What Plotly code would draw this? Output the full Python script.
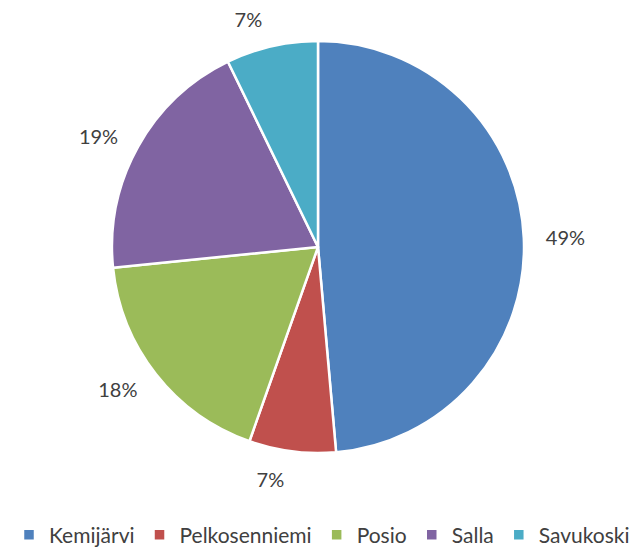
import plotly.graph_objects as go

categories = ["Kemijärvi", "Pelkosenniemi", "Posio", "Salla", "Savukoski"]
values = [48.6, 6.8, 18.0, 19.4, 7.2]
colors = ["#4F81BD", "#C0504D", "#9BBB59", "#8064A2", "#4BACC6"]

W, H = 638, 548
# page body has an 8px default margin, so figure coords = screen coords - 8
cx, cy, r = 310, 239, 206
label_r = r + 16


def dom(rr):
    return dict(x=[(cx - rr) / W, (cx + rr) / W], y=[1 - (cy + rr) / H, 1 - (cy - rr) / H])


fig = go.Figure()
fig.add_trace(go.Pie(
    labels=categories,
    values=values,
    sort=False,
    direction="clockwise",
    rotation=0,
    marker=dict(colors=colors, line=dict(color="white", width=2.5)),
    textinfo="none",
    domain=dom(r),
    hoverinfo="label+percent",
))
# transparent copy that only carries the outside percentage labels
fig.add_trace(go.Pie(
    labels=categories,
    values=values,
    sort=False,
    direction="clockwise",
    rotation=0,
    marker=dict(colors=["rgba(0,0,0,0)"] * len(values), line=dict(width=0)),
    textinfo="percent",
    texttemplate="%{percent:.0%}",
    textposition="outside",
    textfont=dict(size=20, color="#404040", family="Lato"),
    domain=dom(label_r),
    hoverinfo="skip",
    showlegend=False,
))

fig.update_layout(
    width=W, height=H,
    margin=dict(l=0, r=0, t=0, b=0, autoexpand=False),
    paper_bgcolor="white",
    plot_bgcolor="white",
    font=dict(family="Lato", color="#404040"),
    legend=dict(
        orientation="h",
        x=314 / W, xanchor="center",
        y=1 - 527 / H, yanchor="middle",
        font=dict(size=21, color="#404040", family="Lato"),
        itemwidth=30,
        tracegroupgap=0,
    ),
)

fig.write_html("out.html")
